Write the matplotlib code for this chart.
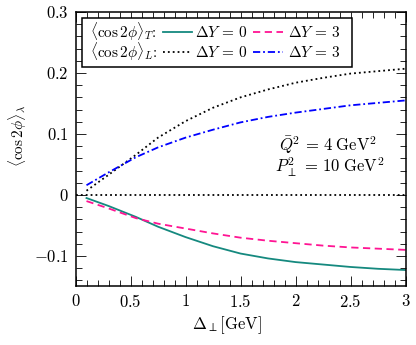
import numpy as np
import matplotlib
matplotlib.use('Agg')
import matplotlib.pyplot as plt
from matplotlib.ticker import MultipleLocator, FuncFormatter
from matplotlib.patches import Rectangle

plt.rcParams['mathtext.fontset'] = 'cm'
plt.rcParams['font.family'] = 'serif'
plt.rcParams['font.serif'] = ['cmr10']
plt.rcParams['axes.unicode_minus'] = False

# values
delta = [0.1, 0.3, 0.55, 0.75, 1.0, 1.25, 1.5, 1.75, 2.0, 2.25, 2.5, 2.75, 3.0]
t_dy0 = [-0.005, -0.018, -0.036, -0.052, -0.069, -0.084, -0.096, -0.104, -0.110, -0.114, -0.118, -0.121, -0.123]
t_dy3 = [-0.010, -0.022, -0.038, -0.047, -0.055, -0.063, -0.070, -0.075, -0.079, -0.083, -0.086, -0.088, -0.090]
l_dy0 = [0.007, 0.033, 0.066, 0.094, 0.121, 0.143, 0.160, 0.173, 0.184, 0.192, 0.199, 0.203, 0.207]
l_dy3 = [0.016, 0.037, 0.062, 0.078, 0.094, 0.107, 0.119, 0.128, 0.135, 0.141, 0.147, 0.151, 0.155]

teal = '#15897f'
pink = '#ff1493'
blue = '#0000ff'
fs = 12
lfs = 11

fig = plt.figure(figsize=(4.16, 3.45), dpi=100)
ax = fig.add_axes([0.1815, 0.1696, 0.7933, 0.7957])

ax.axhline(0, color='black', lw=1.3, ls=(0, (1, 1.7)))
ax.plot(delta, t_dy0, color=teal, lw=1.3)
ax.plot(delta, t_dy3, color=pink, lw=1.3, ls=(0, (4, 2.5)))
ax.plot(delta, l_dy0, color='black', lw=1.3, ls=(0, (1, 1.7)))
ax.plot(delta, l_dy3, color=blue, lw=1.3, ls=(0, (4, 1.6, 1, 1.6)))

ax.set_xlim(0, 3)
ax.set_ylim(-0.15, 0.3)
ax.xaxis.set_major_locator(MultipleLocator(0.5))
ax.xaxis.set_minor_locator(MultipleLocator(0.1))
ax.yaxis.set_major_locator(MultipleLocator(0.1))
ax.yaxis.set_minor_locator(MultipleLocator(0.02))
fmt = FuncFormatter(lambda v, p: r'$%s$' % ('%g' % round(v, 3)))
ax.xaxis.set_major_formatter(fmt)
ax.yaxis.set_major_formatter(fmt)
ax.tick_params(which='both', direction='in', top=True, right=True, labelsize=fs, width=0.6)
ax.tick_params(which='major', length=7, pad=5)
ax.tick_params(which='minor', length=4)
for s in ax.spines.values():
    s.set_linewidth(1.1)

ax.set_xlabel(r'$\Delta_\perp[\mathrm{GeV}]$', fontsize=fs)
ax.xaxis.set_label_coords(0.46, -0.1)
ax.set_ylabel(r'$\langle\cos 2\phi\rangle_\lambda$', fontsize=lfs)
ax.yaxis.set_label_coords(-0.145, 0.55)

ax.text(0.617, 0.515, r'$\bar{Q}^2\,=\,4\;\mathrm{GeV}^2$', transform=ax.transAxes,
        fontsize=fs, va='center', ha='left')
ax.text(0.606, 0.435, r'$P_\perp^2\,=\,10\;\mathrm{GeV}^2$', transform=ax.transAxes,
        fontsize=fs, va='center', ha='left')

# hand-made legend
ax.add_patch(Rectangle((0.019, 0.801), 0.818, 0.176, transform=ax.transAxes,
                       fill=True, facecolor='white', edgecolor='black', lw=1.1, zorder=5))
rows = [(0.926, r'$\langle\cos 2\phi\rangle_T$:', dict(color=teal), dict(color=pink, ls=(0, (4, 2.5)))),
        (0.853, r'$\langle\cos 2\phi\rangle_L$:', dict(color='black', ls=(0, (1, 1.7))),
         dict(color=blue, ls=(0, (4, 1.6, 1, 1.6))))]
for y, lab, st0, st3 in rows:
    ax.text(0.045, y, lab, transform=ax.transAxes, fontsize=lfs, va='center', ha='left', zorder=6)
    ax.plot([0.264, 0.352], [y, y], transform=ax.transAxes, lw=1.3, zorder=6, **st0)
    ax.text(0.362, y, r'$\Delta Y\,=\,0$', transform=ax.transAxes, fontsize=lfs, va='center', ha='left', zorder=6)
    ax.plot([0.538, 0.629], [y, y], transform=ax.transAxes, lw=1.3, zorder=6, **st3)
    ax.text(0.643, y, r'$\Delta Y\,=\,3$', transform=ax.transAxes, fontsize=lfs, va='center', ha='left', zorder=6)

fig.savefig('out.png', dpi=100)
